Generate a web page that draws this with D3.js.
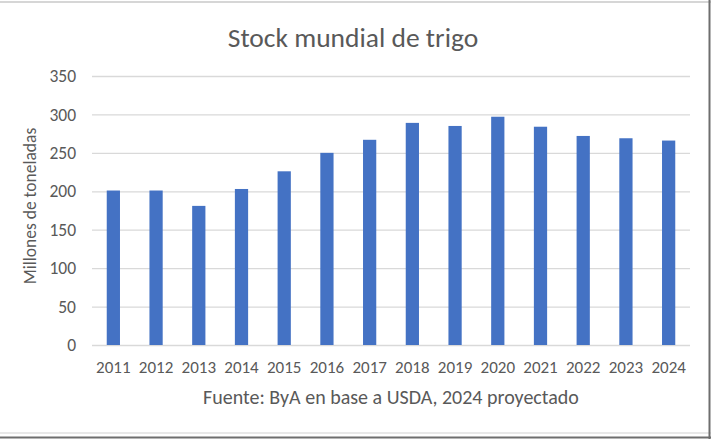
<!DOCTYPE html>
<html>
<head>
<meta charset="utf-8">
<script src="https://cdn.jsdelivr.net/npm/d3@7"></script>
<style>
  html, body { margin: 0; padding: 0; background: #fff; }
  svg { display: block; }
  text { font-family: Carlito, Calibri, Lato, "Open Sans", sans-serif; fill: #595959; }
</style>
</head>
<body>
<svg id="chart" width="711" height="439"></svg>
<script>
const years = ["2011","2012","2013","2014","2015","2016","2017","2018","2019","2020","2021","2022","2023","2024"];
const stocks = [201, 201, 181, 203, 226, 250, 267, 289, 285, 297, 284, 272, 269, 266];
const yTicks = [0, 50, 100, 150, 200, 250, 300, 350];
const title = "Stock mundial de trigo";
const yTitle = "Millones de toneladas";
const footer = "Fuente: ByA en base a USDA, 2024 proyectado";

const W = 711, H = 439;
const svg = d3.select("#chart");

// frame
svg.append("rect").attr("x", 0).attr("y", 0).attr("width", W).attr("height", H).attr("fill", "#fff");
svg.append("line").attr("x1", 0).attr("x2", W).attr("y1", 2).attr("y2", 2).attr("stroke", "#d6d6d6").attr("stroke-width", 2);
svg.append("line").attr("x1", 0).attr("x2", W).attr("y1", 433).attr("y2", 433).attr("stroke", "#e0e0e0").attr("stroke-width", 1.5);
svg.append("line").attr("x1", 0).attr("x2", W).attr("y1", 437.5).attr("y2", 437.5).attr("stroke", "#6e6e6e").attr("stroke-width", 2);
svg.append("line").attr("x1", 709.5).attr("x2", 709.5).attr("y1", 0).attr("y2", H).attr("stroke", "#6e6e6e").attr("stroke-width", 2);

const plot = { left: 92, right: 690, top: 76, bottom: 345 };

const x = d3.scaleBand().domain(years).range([plot.left, plot.right]).paddingInner(0.69).paddingOuter(0.345);
const y = d3.scaleLinear().domain([0, 350]).range([plot.bottom, plot.top]);

const tickFont = "Carlito, Calibri, Lato, sans-serif";

// gridlines
const yAxis = d3.axisLeft(y).tickValues(yTicks).tickSize(-(plot.right - plot.left)).tickPadding(16);
const gy = svg.append("g").attr("transform", `translate(${plot.left},0)`).call(yAxis);
gy.select(".domain").remove();
gy.selectAll(".tick line").attr("stroke", "#d9d9d9").attr("stroke-width", 1.3);
gy.selectAll(".tick text").attr("font-size", 17.5).style("fill", "#595959").style("font-family", tickFont);

// bars
svg.append("g").selectAll("rect").data(stocks).join("rect")
  .attr("x", (d, i) => x(years[i]))
  .attr("width", x.bandwidth())
  .attr("y", d => y(d))
  .attr("height", d => y(0) - y(d))
  .attr("fill", "#4472c4");

// x axis
const xAxis = d3.axisBottom(x).tickSize(0).tickPadding(16);
const gx = svg.append("g").attr("transform", `translate(0,${plot.bottom})`).call(xAxis);
gx.select(".domain").remove();
gx.selectAll(".tick text").attr("font-size", 17).style("fill", "#595959").style("font-family", tickFont);

// titles
svg.append("text").attr("x", 353).attr("y", 47).attr("text-anchor", "middle")
  .attr("font-size", 27.5).text(title);
svg.append("text").attr("transform", "translate(36,206) rotate(-90)").attr("text-anchor", "middle")
  .attr("font-size", 17.5).text(yTitle);
svg.append("text").attr("x", 391).attr("y", 404).attr("text-anchor", "middle")
  .attr("font-size", 20).text(footer);
</script>
</body>
</html>
